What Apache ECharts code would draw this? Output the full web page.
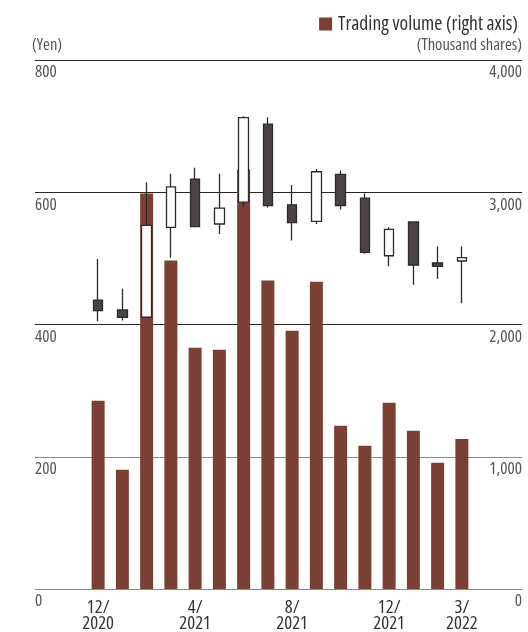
<!DOCTYPE html>
<html>
<head>
<meta charset="utf-8">
<script src="https://cdn.jsdelivr.net/npm/echarts@6/dist/echarts.min.js"></script>
<style>
html,body{margin:0;padding:0;background:#fff;}
#chart{width:528px;height:632px;}
</style>
</head>
<body>
<div id="chart"></div>
<script>
// Months (Dec 2020 – Mar 2022)
const categories = ['12/2020','1/2021','2/2021','3/2021','4/2021','5/2021','6/2021','7/2021','8/2021','9/2021','10/2021','11/2021','12/2021','1/2022','2/2022','3/2022'];
// Month labels shown on the axis
const shownLabels = ['12/2020','4/2021','8/2021','12/2021','3/2022'];
// Stock price (Yen): open, close, low, high
const priceOpen  = [437, 422, 411, 547, 620, 552, 585, 703, 581, 556, 627, 591, 504, 555, 493, 496];
const priceClose = [421, 411, 550, 608, 548, 576, 713, 580, 554, 631, 580, 509, 544, 490, 488, 501];
const priceLow   = [405, 406, 410, 501, 547, 537, 577, 577, 527, 552, 574, 507, 488, 460, 469, 432];
const priceHigh  = [499, 454, 615, 628, 637, 628, 715, 713, 611, 635, 633, 598, 547, 555, 518, 518];
// Trading volume (thousand shares)
const volume = [1423, 901, 2990, 2483, 1824, 1809, 3172, 2332, 1953, 2324, 1234, 1083, 1408, 1196, 954, 1135];
// Axis ticks
const priceTicks = [0, 200, 400, 600, 800];
const volumeTicks = [0, 1000, 2000, 3000, 4000];

// ---- pick the narrowest available condensed sans face ----
const ctx = document.createElement('canvas').getContext('2d');
const SAMPLE = 'Trading volume (right axis) 0123456789';
function w(font) { ctx.font = font; return ctx.measureText(SAMPLE).width; }
const baseW = w("100px 'Liberation Sans'");
const candidates = [
  {weight: 'normal', family: "'Liberation Sans Narrow'"},
  {weight: 'normal', family: "'Arial Narrow'"},
  {weight: 'normal', family: "'Noto Sans Condensed'"},
  {weight: 'normal', family: "'Open Sans Condensed'"},
  {weight: 'condensed', family: "'Noto Sans'"},
  {weight: 'condensed', family: "'Open Sans'"},
  {weight: 'semi-condensed', family: "'Noto Sans'"},
  {weight: 'condensed', family: "'Roboto'"},
  {weight: 'condensed', family: "'Inter'"},
  {weight: 'normal', family: "'DejaVu Sans Condensed'"}
];
let best = {weight: 'normal', family: "'Liberation Sans'", k: 1};
let bestScore = Math.abs(1 - 0.82);
candidates.forEach(c => {
  const a = w(c.weight + ' 100px ' + c.family + ', monospace');
  const b = w(c.weight + ' 100px ' + c.family + ', serif');
  if (Math.abs(a - b) > 0.5) return; // not installed
  const k = a / baseW;
  const score = Math.abs(k - 0.82);
  if (score < bestScore) { bestScore = score; best = {weight: c.weight, family: c.family, k: k}; }
});
const FONT = best.family + ', sans-serif';
const FW = best.weight;
const sz = s => Math.round(s * 0.82 / best.k * 10) / 10;

const candleData = categories.map((c, i) => [priceOpen[i], priceClose[i], priceLow[i], priceHigh[i]]);

const chart = echarts.init(document.getElementById('chart'), null, {renderer: 'canvas'});
chart.setOption({
  animation: false,
  backgroundColor: '#ffffff',
  textStyle: {fontFamily: FONT, fontWeight: FW},
  legend: {
    data: ['Trading volume (right axis)'],
    right: 5, top: 9,
    icon: 'rect', itemWidth: 13, itemHeight: 13, itemGap: 6,
    textStyle: {fontFamily: FONT, fontWeight: FW, fontSize: sz(18.5), color: '#333', padding: [0, 0, 0, 1]}
  },
  grid: [
    {left: 35, right: 6, top: 60, bottom: 43, containLabel: false, outerBoundsMode: 'none'},
    {left: 86, right: 54, top: 60, bottom: 43, containLabel: false, outerBoundsMode: 'none'}
  ],
  xAxis: [
    {gridIndex: 0, type: 'value', min: 0, max: 1, show: false},
    {
      gridIndex: 1, type: 'category', data: categories,
      axisLine: {show: false}, axisTick: {show: false},
      axisLabel: {
        interval: 0, margin: 11, color: '#333', fontFamily: FONT, fontWeight: FW, fontSize: sz(17.5), lineHeight: 16,
        formatter: v => shownLabels.indexOf(v) >= 0 ? v.replace('/', '/\n') : ''
      }
    }
  ],
  yAxis: [
    {
      gridIndex: 0, type: 'value', min: priceTicks[0], max: priceTicks[priceTicks.length - 1], interval: 200,
      position: 'left',
      name: '(Yen)', nameLocation: 'end', nameGap: 6,
      nameTextStyle: {align: 'left', color: '#555', fontFamily: FONT, fontWeight: FW, fontSize: sz(15.5), padding: [0, 0, 0, -3]},
      axisLine: {show: false}, axisTick: {show: false},
      axisLabel: {inside: true, margin: 0, verticalAlign: 'top', padding: [4, 0, 0, 0], color: '#555', fontFamily: FONT, fontWeight: FW, fontSize: sz(16)},
      splitLine: {show: true, lineStyle: {color: ['#8a8a8a', '#8a8a8a', '#2b2424', '#2b2424', '#2b2424'], width: 1.2}}
    },
    {
      gridIndex: 0, type: 'value', min: volumeTicks[0], max: volumeTicks[volumeTicks.length - 1], interval: 1000,
      position: 'right',
      name: '(Thousand shares)', nameLocation: 'end', nameGap: 6,
      nameTextStyle: {align: 'right', color: '#555', fontFamily: FONT, fontWeight: FW, fontSize: sz(15.5)},
      axisLine: {show: false}, axisTick: {show: false},
      axisLabel: {inside: true, margin: 0, verticalAlign: 'top', padding: [4, 0, 0, 0], color: '#555', fontFamily: FONT, fontWeight: FW, fontSize: sz(16),
        formatter: v => v.toLocaleString('en-US')},
      splitLine: {show: false}
    },
    {gridIndex: 1, type: 'value', min: priceTicks[0], max: priceTicks[priceTicks.length - 1], show: false, splitLine: {show: false}},
    {gridIndex: 1, type: 'value', min: volumeTicks[0], max: volumeTicks[volumeTicks.length - 1], show: false, splitLine: {show: false}}
  ],
  series: [
    {
      name: 'Trading volume (right axis)', type: 'bar',
      xAxisIndex: 1, yAxisIndex: 3,
      data: volume, barWidth: 13,
      itemStyle: {color: '#7b4034'},
      z: 2
    },
    {
      name: 'Price', type: 'candlestick',
      xAxisIndex: 1, yAxisIndex: 2,
      data: candleData, barWidth: 10,
      itemStyle: {color: '#ffffff', color0: '#4a4544', borderColor: '#2e2a2a', borderColor0: '#2e2a2a', borderWidth: 1.3},
      z: 3
    }
  ]
});
</script>
</body>
</html>
